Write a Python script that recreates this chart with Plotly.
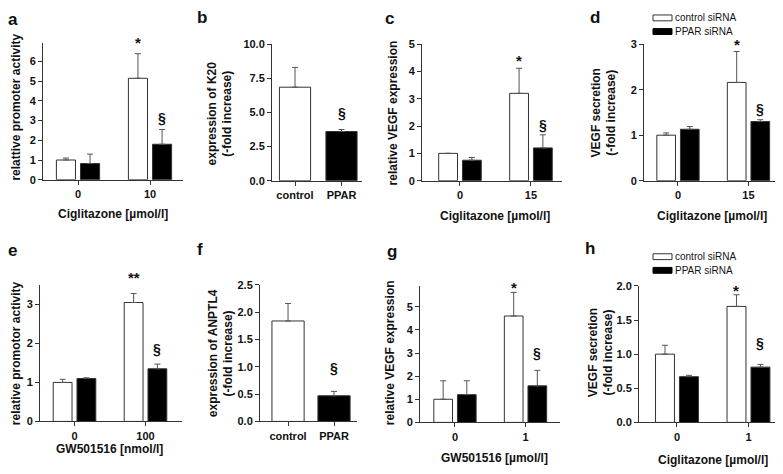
import plotly.graph_objects as go

W, H = 783, 474
EDGE = "#333333"
ERRC = "#555555"
FONT = "Liberation Sans"
SHIFT = 8   # page body margin, positions below are measured on the reference picture

# ------------------ DATA ------------------
a_ticks = ["0", "10"]
a_control = [1.0, 5.15]
a_control_err = [0.1, 1.25]
a_ppar = [0.82, 1.8]
a_ppar_err = [0.48, 0.75]

b_ticks = ["control", "PPAR"]
b_vals = [6.85, 3.6]
b_err = [1.45, 0.15]

c_ticks = ["0", "15"]
c_control = [1.0, 3.2]
c_control_err = [0.0, 0.92]
c_ppar = [0.75, 1.2]
c_ppar_err = [0.1, 0.48]

d_ticks = ["0", "15"]
d_control = [1.0, 2.16]
d_control_err = [0.05, 0.68]
d_ppar = [1.13, 1.3]
d_ppar_err = [0.06, 0.04]

e_ticks = ["0", "100"]
e_control = [1.0, 3.05]
e_control_err = [0.08, 0.23]
e_ppar = [1.1, 1.35]
e_ppar_err = [0.02, 0.12]

f_ticks = ["control", "PPAR"]
f_vals = [1.84, 0.47]
f_err = [0.32, 0.08]

g_ticks = ["0", "1"]
g_control = [1.0, 4.6]
g_control_err = [0.8, 1.02]
g_ppar = [1.2, 1.58]
g_ppar_err = [0.6, 0.67]

h_ticks = ["0", "1"]
h_control = [1.0, 1.7]
h_control_err = [0.13, 0.17]
h_ppar = [0.67, 0.81]
h_ppar_err = [0.02, 0.04]

# ------------------ HELPERS ------------------
def px(x):
    return (x - SHIFT) / W


def py(y):
    return 1 - (y - SHIFT) / H


BAR_W = 0.265
OFF_C = -0.30
OFF_P = 0.035
TICKFONT = dict(size=11, color="#111", family=FONT, weight="bold")

fig = go.Figure()


def err(arr):
    return dict(type="data", symmetric=False, array=arr, arrayminus=[0] * len(arr),
                color=ERRC, thickness=1, width=3)


def setup_axes(n, box, xr, yr, ticks, ydtick, yfmt):
    x0, x1, ybot, ytop = box
    sfx = "" if n == 1 else str(n)
    fig.update_layout({
        "xaxis" + sfx: dict(
            domain=[px(x0), px(x1)], range=xr, anchor="y" + sfx,
            tickvals=[0, 1], ticktext=ticks, ticks="outside", ticklen=4,
            tickcolor=EDGE, showline=True, linecolor=EDGE, linewidth=1,
            showgrid=False, zeroline=False, fixedrange=True, tickfont=TICKFONT,
        ),
        "yaxis" + sfx: dict(
            domain=[py(ybot), py(ytop)], range=yr, anchor="x" + sfx,
            dtick=ydtick, tick0=0, tickformat=yfmt, ticks="outside", ticklen=4,
            tickcolor=EDGE, showline=True, linecolor=EDGE, linewidth=1,
            showgrid=False, zeroline=False, fixedrange=True, tickfont=TICKFONT,
        ),
    })
    return "x" + sfx, "y" + sfx


def grouped(n, box, xr, yr, ticks, ydtick, yfmt, ctrl, ctrl_e, ppar, ppar_e):
    xa, ya = setup_axes(n, box, xr, yr, ticks, ydtick, yfmt)
    fig.add_trace(go.Bar(
        x=[0, 1], y=ctrl, width=BAR_W, offset=OFF_C, name="control siRNA",
        marker=dict(color="white", line=dict(color=EDGE, width=1)),
        error_y=err(ctrl_e), xaxis=xa, yaxis=ya, showlegend=False))
    fig.add_trace(go.Bar(
        x=[0, 1], y=ppar, width=BAR_W, offset=OFF_P, name="PPAR siRNA",
        marker=dict(color="black", line=dict(color=EDGE, width=1)),
        error_y=err(ppar_e), xaxis=xa, yaxis=ya, showlegend=False))
    return xa, ya


def single(n, box, xr, yr, ticks, ydtick, yfmt, vals, vals_e, bw):
    xa, ya = setup_axes(n, box, xr, yr, ticks, ydtick, yfmt)
    fig.add_trace(go.Bar(
        x=[0, 1], y=vals, width=bw, offset=-bw / 2,
        marker=dict(color=["white", "black"], line=dict(color=EDGE, width=1)),
        error_y=err(vals_e), xaxis=xa, yaxis=ya, showlegend=False))
    return xa, ya


def sig(xa, ya, x, y, shift, text, size=15):
    # significance mark placed above the top of the error bar
    fig.add_annotation(x=x, y=y, xref=xa, yref=ya, text=text, showarrow=False,
                       yanchor="middle", yshift=shift,
                       font=dict(size=size, color="#111", family=FONT, weight="bold"))


def label(x, y, text, size=12, angle=0, weight="bold", xanchor="center"):
    fig.add_annotation(x=px(x), y=py(y), xref="paper", yref="paper", text=text,
                       showarrow=False, textangle=angle, xanchor=xanchor, yanchor="middle",
                       align="center",
                       font=dict(size=size, color="#111", family=FONT, weight=weight))


XC = 1 + OFF_C + BAR_W / 2   # centre of control bar, second group
XP = 1 + OFF_P + BAR_W / 2   # centre of PPAR bar, second group

# ------------------ PANEL a ------------------
xa, ya = grouped(1, (43, 183, 178, 38), [-0.486, 1.458], [0, 6.93], a_ticks, 1, "d",
                 a_control, a_control_err, a_ppar, a_ppar_err)
sig(xa, ya, XC, a_control[1] + a_control_err[1], 11, "*")
sig(xa, ya, XP, a_ppar[1] + a_ppar_err[1], 11, "§", 14)
label(13, 14, "a", 17)
label(16, 104, "relattive promoter activity", angle=-90)
label(113, 213, "Ciglitazone [µmol/l]")

# ------------------ PANEL b ------------------
xa, ya = single(2, (272, 362, 179, 39), [-0.495, 1.441], [0, 10], b_ticks, 2.5, ".1f",
                b_vals, b_err, 0.67)
sig(xa, ya, 1, b_vals[1] + b_err[1], 16, "§", 14)
label(202, 12, "b", 17)
label(220, 110, "expression of K20<br>(-fold increase)", angle=-90)

# ------------------ PANEL c ------------------
xa, ya = grouped(3, (422, 562, 179, 39), [-0.535, 1.437], [0, 5], c_ticks, 1, "d",
                 c_control, c_control_err, c_ppar, c_ppar_err)
sig(xa, ya, XC, c_control[1] + c_control_err[1], 8, "*")
sig(xa, ya, XP, c_ppar[1] + c_ppar_err[1], 10, "§", 14)
label(389, 13, "c", 17)
label(393, 110, "relative VEGF expression", angle=-90)
label(495, 215, "Ciglitazone [µmol/l]")

# ------------------ PANEL d ------------------
xa, ya = grouped(4, (644, 780, 179, 39), [-0.482, 1.447], [0, 3], d_ticks, 1, "d",
                 d_control, d_control_err, d_ppar, d_ppar_err)
sig(xa, ya, XC, d_control[1] + d_control_err[1], 7, "*")
sig(xa, ya, XP, d_ppar[1] + d_ppar_err[1], 11, "§", 14)
label(595, 12, "d", 17)
label(604, 110, "VEGF secretion<br>(-fold increase)", angle=-90)
label(712, 215, "Ciglitazone [µmol/l]")

# ------------------ PANEL e ------------------
xa, ya = grouped(5, (40, 182, 426, 286), [-0.486, 1.514], [0, 3.5], e_ticks, 1, "d",
                 e_control, e_control_err, e_ppar, e_ppar_err)
sig(xa, ya, XC, e_control[1] + e_control_err[1], 16, "**")
sig(xa, ya, XP, e_ppar[1] + e_ppar_err[1], 15, "§", 14)
label(12, 251, "e", 17)
label(16, 356, "relative promotor activity", angle=-90)
label(110, 454, "GW501516 [nmol/l]")

# ------------------ PANEL f ------------------
xa, ya = single(6, (260, 357, 426, 286), [-0.61, 1.5], [0, 2.5], f_ticks, 0.5, ".1f",
                f_vals, f_err, 0.7)
sig(xa, ya, 1, f_vals[1] + f_err[1], 23, "§", 14)
label(200, 250, "f", 17)
label(221, 356, "expression of ANPTL4<br>(-fold increase)", angle=-90)

# ------------------ PANEL g ------------------
xa, ya = grouped(7, (420, 560, 427, 287), [-0.496, 1.489], [0, 5.9], g_ticks, 1, "d",
                 g_control, g_control_err, g_ppar, g_ppar_err)
sig(xa, ya, XC, g_control[1] + g_control_err[1], 5, "*")
sig(xa, ya, XP, g_ppar[1] + g_ppar_err[1], 17, "§", 14)
label(392, 252, "g", 17)
label(390, 356, "relative VEGF expression", angle=-90)
label(495, 464, "GW501516 [µmol/l]")

# ------------------ PANEL h ------------------
xa, ya = grouped(8, (639, 783, 427, 287), [-0.531, 1.483], [0, 2.0], h_ticks, 0.5, ".1f",
                 h_control, h_control_err, h_ppar, h_ppar_err)
sig(xa, ya, XC, h_control[1] + h_control_err[1], 4, "*")
sig(xa, ya, XP, h_ppar[1] + h_ppar_err[1], 21, "§", 14)
label(590, 249, "h", 17)
label(601, 356, "VEGF secretion<br>(-fold increase)", angle=-90)
label(713, 466, "Ciglitazone [µmol/l]")

# ------------------ LEGENDS (d and h) ------------------
for top in (9, 254):
    fig.add_shape(type="rect", xref="paper", yref="paper",
                  x0=px(653), x1=px(672), y0=py(top + 6), y1=py(top),
                  fillcolor="white", line=dict(color=EDGE, width=1))
    fig.add_shape(type="rect", xref="paper", yref="paper",
                  x0=px(653), x1=px(672), y0=py(top + 20), y1=py(top + 14),
                  fillcolor="black", line=dict(color="black", width=1))
    label(673, top + 3, "control siRNA", 10, weight="normal", xanchor="left")
    label(673, top + 17, "PPAR siRNA", 10, weight="normal", xanchor="left")

# ------------------ FINAL LAYOUT ------------------
fig.update_layout(
    width=W, height=H, margin=dict(t=0, b=0, l=0, r=0),
    barmode="overlay", plot_bgcolor="white", paper_bgcolor="white",
    font=dict(family=FONT, color="#111"), showlegend=False,
)

fig.write_html("out.html")
